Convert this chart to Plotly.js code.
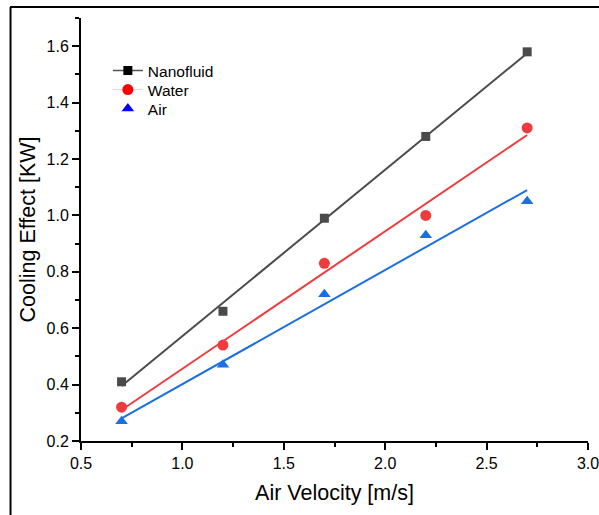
<!DOCTYPE html>
<html>
<head>
<meta charset="utf-8">
<script src="https://cdn.plot.ly/plotly-3.0.1.min.js"></script>
<style>
html,body{margin:0;padding:0;background:#fff;}
#chart{width:599px;height:515px;}
</style>
</head>
<body>
<div id="chart"></div>
<script>
// Measured data
var velocity = [0.7, 1.2, 1.7, 2.2, 2.7];
var nanofluid = [0.41, 0.66, 0.99, 1.28, 1.58];
var water = [0.32, 0.54, 0.83, 1.00, 1.31];
var air = [0.27, 0.47, 0.72, 0.93, 1.05];

// Fitted straight lines (end points)
var fitX = [0.7, 2.7];
var nanofluidFit = [0.395, 1.575];
var waterFit = [0.31, 1.285];
var airFit = [0.28, 1.09];

var seriesNames = ['Nanofluid', 'Water', 'Air'];

var grey = '#4a4a4a', red = '#ee3b3e', blue = '#1c6fe0';

var traces = [
  {x: fitX, y: nanofluidFit, mode: 'lines', line: {color: grey, width: 2}, showlegend: false, hoverinfo: 'skip'},
  {x: fitX, y: waterFit, mode: 'lines', line: {color: red, width: 2}, showlegend: false, hoverinfo: 'skip'},
  {x: fitX, y: airFit, mode: 'lines', line: {color: blue, width: 2}, showlegend: false, hoverinfo: 'skip'},
  {x: velocity, y: nanofluid, mode: 'markers', marker: {symbol: 'square', size: 9, color: grey}, showlegend: false},
  {x: velocity, y: water, mode: 'markers', marker: {symbol: 'circle', size: 11, color: red}, showlegend: false},
  {x: velocity, y: air, mode: 'markers', marker: {symbol: 'triangle-up', size: 11, color: blue}, showlegend: false},
  // legend entries
  {x: [null], y: [null], name: seriesNames[0], legend: 'legend', mode: 'lines+markers', line: {color: '#555555', width: 1.5}, marker: {symbol: 'square', size: 9, color: '#000000'}},
  {x: [null], y: [null], name: seriesNames[1], legend: 'legend2', mode: 'lines+markers', line: {color: '#ffcccc', width: 1}, marker: {symbol: 'circle', size: 11, color: '#ff0000'}},
  {x: [null], y: [null], name: seriesNames[2], legend: 'legend3', mode: 'markers', marker: {symbol: 'triangle-up', size: 11, color: '#0000ff'}}
];

var axisFont = {family: 'Liberation Sans, Arial, sans-serif', size: 16, color: '#000'};
var titleFont = {family: 'Liberation Sans, Arial, sans-serif', size: 21.5, color: '#000'};
var legFont = {family: 'Liberation Sans, Arial, sans-serif', size: 15.5, color: '#000'};

function leg(y) {
  return {x: 0.053, y: y, xanchor: 'left', yanchor: 'middle',
    bgcolor: 'rgba(0,0,0,0)', borderwidth: 0, font: legFont};
}

var layout = {
  width: 599, height: 515,
  margin: {l: 81, r: 11, t: 18, b: 74, pad: 0},
  paper_bgcolor: '#fff', plot_bgcolor: '#fff',
  font: {family: 'Liberation Sans, Arial, sans-serif', color: '#000'},
  showlegend: true,
  legend: leg(0.8747),
  legend2: leg(0.8298),
  legend3: leg(0.7849),
  xaxis: {
    range: [0.5, 3.0], dtick: 0.5, tick0: 0.5, tickformat: '.1f',
    showgrid: false, zeroline: false,
    showline: true, linecolor: '#000', linewidth: 2, mirror: false,
    ticks: 'outside', ticklen: 7, tickwidth: 2, tickcolor: '#000',
    minor: {dtick: 0.25, tick0: 0.5, ticks: 'outside', ticklen: 4, tickwidth: 2, tickcolor: '#000', showgrid: false},
    tickfont: axisFont, ticklabeloverflow: 'allow',
    title: {text: 'Air Velocity [m/s]', font: titleFont, standoff: 14}
  },
  yaxis: {
    range: [0.2, 1.7], dtick: 0.2, tick0: 0.2, tickformat: '.1f',
    showgrid: false, zeroline: false,
    showline: true, linecolor: '#000', linewidth: 2, mirror: false,
    ticks: 'outside', ticklen: 7, tickwidth: 2, tickcolor: '#000',
    minor: {dtick: 0.1, tick0: 0.2, ticks: 'outside', ticklen: 4, tickwidth: 2, tickcolor: '#000', showgrid: false},
    tickfont: axisFont, ticklabeloverflow: 'allow',
    title: {text: 'Cooling Effect [KW]', font: titleFont, standoff: 5}
  },
  shapes: [
    {type: 'line', xref: 'paper', yref: 'paper', x0: -0.14, x1: 1.03, y0: 1.026, y1: 1.026, line: {color: '#000', width: 2}},
    {type: 'line', xref: 'paper', yref: 'paper', x0: -0.139, x1: -0.139, y0: 1.026, y1: -0.2, line: {color: '#000', width: 2}}
  ]
};

Plotly.newPlot('chart', traces, layout, {displayModeBar: false, staticPlot: true});
</script>
</body>
</html>
